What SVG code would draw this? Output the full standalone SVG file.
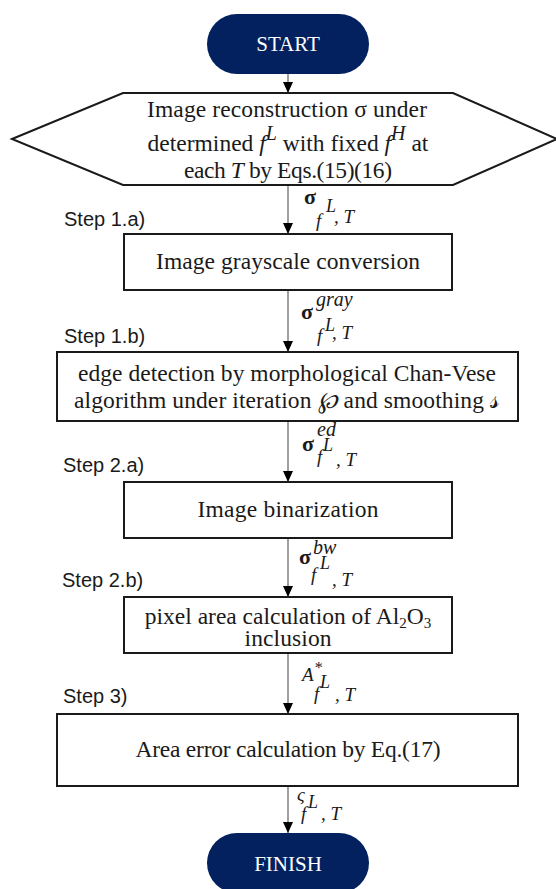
<svg xmlns="http://www.w3.org/2000/svg" width="556" height="889" viewBox="0 0 556 889">
  <style>
    .bg { fill: #ffffff; }
    .term { fill: #02215e; }
    .term-text { font-family: "Liberation Serif", serif; font-size: 21px; fill: #ffffff; text-anchor: middle; }
    .box { fill: #ffffff; stroke: #1a1a1a; stroke-width: 2; }
    .txt { font-family: "Liberation Serif", serif; font-size: 23.5px; fill: #1a1a1a; text-anchor: middle; }
    .step { font-family: "Liberation Sans", sans-serif; font-size: 20px; fill: #1a1a1a; }
    .conn { stroke: #808080; stroke-width: 1.5; fill: none; marker-end: url(#arrow); }
    .m { font-family: "Liberation Serif", serif; fill: #1a1a1a; font-style: italic; }
    .sig { font-family: "Liberation Serif", serif; font-weight: bold; font-size: 22px; fill: #1a1a1a; }
    .sup { font-size: 20px; }
    .f { font-size: 19px; }
    .L { font-size: 18px; }
    .T { font-size: 19px; }
  </style>
  <defs>
    <marker id="arrow" markerUnits="userSpaceOnUse" markerWidth="11" markerHeight="10" viewBox="0 0 11 10" refX="11" refY="5" orient="auto">
      <path d="M0,0 L11,5 L0,10 z" fill="#000000"/>
    </marker>
  </defs>
  <rect class="bg" x="0" y="0" width="556" height="889"/>

  <!-- connectors -->
  <g id="connectors">
    <line class="conn" x1="288" y1="74" x2="288" y2="93"/>
    <line class="conn" x1="288" y1="185" x2="288" y2="234"/>
    <line class="conn" x1="288" y1="290" x2="288" y2="352"/>
    <line class="conn" x1="288" y1="421" x2="288" y2="482"/>
    <line class="conn" x1="288" y1="538" x2="288" y2="597"/>
    <line class="conn" x1="288" y1="653" x2="288" y2="714"/>
    <line class="conn" x1="288" y1="786" x2="288" y2="833"/>
  </g>

  <!-- connector labels -->
  <g id="labels">
    <text class="sig" x="304" y="204">σ</text>
    <text class="m L" x="326" y="212">L</text>
    <text class="m f" x="316" y="227">f</text>
    <text class="m T" x="334" y="223">, T</text>

    <text class="sig" x="301" y="319">σ</text>
    <text class="m sup" x="316" y="306">gray</text>
    <text class="m L" x="325" y="331">L</text>
    <text class="m f" x="317" y="342">f</text>
    <text class="m T" x="332" y="339">, T</text>

    <text class="sig" x="302" y="451">σ</text>
    <text class="m sup" x="317" y="436">ed</text>
    <text class="m L" x="323" y="451">L</text>
    <text class="m f" x="317" y="463">f</text>
    <text class="m T" x="336" y="466">, T</text>

    <text class="sig" x="299" y="564">σ</text>
    <text class="m sup" x="313" y="554">bw</text>
    <text class="m L" x="320" y="569">L</text>
    <text class="m f" x="311" y="581">f</text>
    <text class="m T" x="332" y="586">, T</text>

    <text class="m" font-size="19" x="302" y="681">A</text>
    <text class="m" font-size="16" x="314" y="673">*</text>
    <text class="m L" x="320" y="688">L</text>
    <text class="m f" x="314" y="700">f</text>
    <text class="m T" x="335" y="701">, T</text>

    <text class="m" font-size="19" x="297" y="801">ς</text>
    <text class="m L" x="308" y="808">L</text>
    <text class="m f" x="301" y="820">f</text>
    <text class="m T" x="321" y="820">, T</text>
  </g>

  <!-- step captions -->
  <g id="steps">
    <text class="step" x="64" y="226">Step 1.a)</text>
    <text class="step" x="64" y="343">Step 1.b)</text>
    <text class="step" x="63" y="472">Step 2.a)</text>
    <text class="step" x="62" y="587">Step 2.b)</text>
    <text class="step" x="63" y="703">Step 3)</text>
  </g>

  <g id="start">
    <rect class="term" x="207" y="14" width="162" height="60" rx="30" ry="30"/>
    <text class="term-text" x="288" y="51">START</text>
  </g>

  <g id="reconstruction">
    <polygon class="box" points="12,139 123,93 453,93 557,139 453,185 123,185"/>
    <text class="txt" x="287" y="117" textLength="280">Image reconstruction σ under</text>
    <text class="txt" x="288" y="151">determined <tspan font-style="italic">f</tspan><tspan font-style="italic" font-size="20" dy="-11">L</tspan><tspan dy="11"> with fixed </tspan><tspan font-style="italic">f</tspan><tspan font-style="italic" font-size="20" dy="-11">H</tspan><tspan dy="11"> at</tspan></text>
    <text class="txt" x="288" y="178" textLength="208">each <tspan font-style="italic">T</tspan> by Eqs.(15)(16)</text>
  </g>

  <g id="grayscale">
    <rect class="box" x="124" y="234" width="328" height="56"/>
    <text class="txt" x="288" y="269" textLength="264">Image grayscale conversion</text>
  </g>

  <g id="edge-detection">
    <rect class="box" x="57" y="352" width="461" height="69"/>
    <text class="txt" x="287" y="381" textLength="418">edge detection by morphological Chan-Vese</text>
    <text class="txt" x="287" y="408" textLength="426">algorithm under  iteration <tspan font-style="italic">℘</tspan> and  smoothing <tspan font-size="26">𝓈</tspan></text>
  </g>

  <g id="binarization">
    <rect class="box" x="124" y="482" width="328" height="56"/>
    <text class="txt" x="288" y="517" textLength="181">Image binarization</text>
  </g>

  <g id="pixel-area">
    <rect class="box" x="124" y="597" width="328" height="56"/>
    <text class="txt" x="288" y="624">pixel area calculation of Al<tspan font-size="15" dy="4">2</tspan><tspan dy="-4">O</tspan><tspan font-size="15" dy="4">3</tspan></text>
    <text class="txt" x="288" y="646" textLength="87">inclusion</text>
  </g>

  <g id="area-error">
    <rect class="box" x="57" y="714" width="461" height="72"/>
    <text class="txt" x="288" y="757" textLength="305">Area error calculation by Eq.(17)</text>
  </g>

  <g id="finish">
    <rect class="term" x="207" y="833" width="162" height="60" rx="30" ry="30"/>
    <text class="term-text" x="288" y="871">FINISH</text>
  </g>
</svg>
